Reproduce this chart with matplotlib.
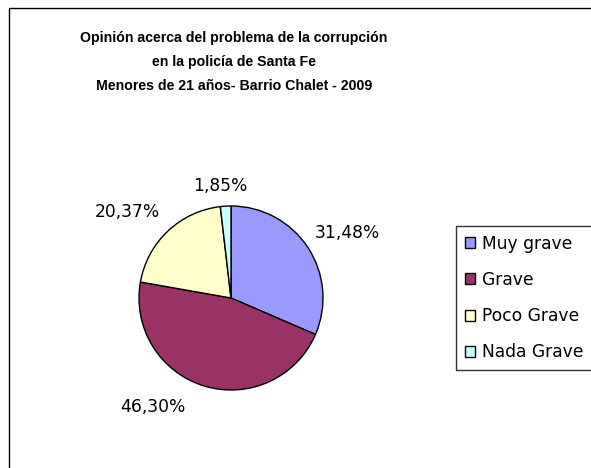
import numpy as np
import matplotlib
matplotlib.use("Agg")
import matplotlib.pyplot as plt
from matplotlib.patches import Rectangle

plt.rcParams['font.family'] = ['DejaVu Sans']

categories = ['Muy grave', 'Grave', 'Poco Grave', 'Nada Grave']
values = [31.48, 46.30, 20.37, 1.85]
colors = ['#9999FF', '#993366', '#FFFFCC', '#CCFFFF']
label_texts = ['31,48%', '46,30%', '20,37%', '1,85%']

W, H = 591, 468
fig = plt.figure(figsize=(W / 100, H / 100), dpi=100)

# outer frame of the chart area (cut off on the right and bottom)
fig.patches.append(Rectangle((9 / W, -0.1), 1.2, 1.1 - 8 / H, transform=fig.transFigure,
                             fill=False, edgecolor='black', linewidth=1.0))

title_font = dict(ha='center', va='center', fontsize=10.2, fontweight='bold',
                  family=['Liberation Sans', 'DejaVu Sans'])
fig.text(234 / W, 1 - 38 / H, 'Opinión acerca del problema de la corrupción', **title_font)
fig.text(234 / W, 1 - 62 / H, 'en la policía de Santa Fe', **title_font)
fig.text(234 / W, 1 - 86 / H, 'Menores de 21 años- Barrio Chalet - 2009', **title_font)

cx, cy, r = 231, 298, 92
ax = fig.add_axes([(cx - r) / W, 1 - (cy + r) / H, 2 * r / W, 2 * r / H])
wedges, _ = ax.pie(values, colors=colors, startangle=90, counterclock=False,
                   wedgeprops=dict(edgecolor='black', linewidth=1.0))
ax.set_xlim(-1, 1)
ax.set_ylim(-1, 1)
ax.set_aspect('equal')
ax.axis('off')

# label placement: angle shift (deg) and radial distance per slice
shift = [-4, -19, 7, 2]
dist = [1.45, 1.46, 1.46, 1.22]
for w, t, s, d in zip(wedges, label_texts, shift, dist):
    ang = np.deg2rad((w.theta1 + w.theta2) / 2 + s)
    ax.text(d * np.cos(ang), d * np.sin(ang), t, ha='center', va='center',
            fontsize=12.3, clip_on=False)

ax.legend(wedges, categories, loc='upper left',
          bbox_to_anchor=(456 / W, 1 - 226 / H), bbox_transform=fig.transFigure,
          fontsize=12.3, frameon=True, fancybox=False, edgecolor='black',
          handlelength=0.6, handleheight=0.6, handletextpad=0.45,
          labelspacing=1.07, borderpad=0.5, borderaxespad=0)

fig.savefig('out.png', dpi=100)
